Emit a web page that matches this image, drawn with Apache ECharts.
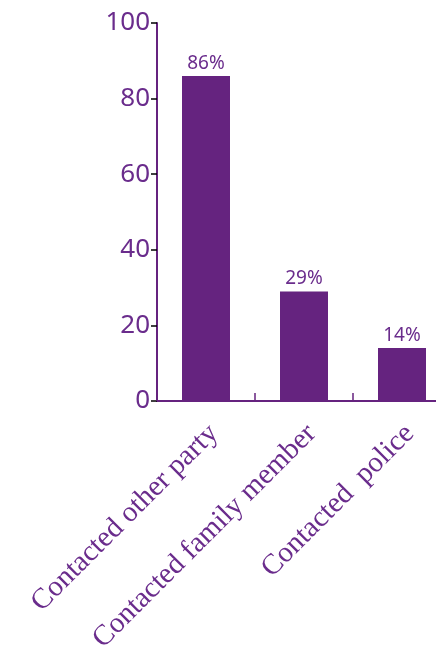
<!DOCTYPE html>
<html>
<head>
<meta charset="utf-8">
<script src="https://cdn.jsdelivr.net/npm/echarts@6/dist/echarts.min.js"></script>
<style>
  html, body { margin: 0; padding: 0; background: #fff; }
  #chart { width: 436px; height: 650px; }
</style>
</head>
<body>
<div id="chart"></div>
<script>
var categories = ['Contacted other party', 'Contacted family member', 'Contacted  police']
var values = [86, 29, 14]
var yTicks = [0, 20, 40, 60, 80, 100]

var purple = '#65237f'
var textPurple = '#6a2c8c'

var chart = echarts.init(document.getElementById('chart'))
chart.setOption({
    animation: false,
    grid: {
        left: 157,
        top: 23,
        width: 294,
        height: 378,
        containLabel: false,
        outerBoundsMode: 'none'
    },
    xAxis: {
        type: 'category',
        data: categories,
        axisLine: { show: true, lineStyle: { color: purple, width: 2 } },
        axisTick: { show: true, inside: true, length: 8, lineStyle: { color: purple, width: 1.5 } },
        axisLabel: {
            rotate: 45,
            margin: 36,
            padding: [0, -11, 0, 0],
            color: textPurple,
            fontFamily: 'Liberation Serif',
            fontSize: 29,
            interval: 0
        }
    },
    yAxis: {
        type: 'value',
        min: yTicks[0],
        max: yTicks[yTicks.length - 1],
        interval: 20,
        axisLine: { show: true, lineStyle: { color: purple, width: 2 } },
        axisTick: { show: true, length: 6, lineStyle: { color: '#000', width: 1.5 } },
        splitLine: { show: false },
        axisLabel: {
            margin: 7,
            color: textPurple,
            fontFamily: 'Noto Sans',
            fontSize: 26
        }
    },
    series: [{
        type: 'bar',
        data: values,
        barWidth: 48,
        itemStyle: { color: purple },
        label: {
            show: true,
            position: 'top',
            distance: 3,
            formatter: '{c}%',
            color: textPurple,
            fontFamily: 'Noto Sans',
            fontSize: 19
        }
    }]
})
</script>
</body>
</html>
